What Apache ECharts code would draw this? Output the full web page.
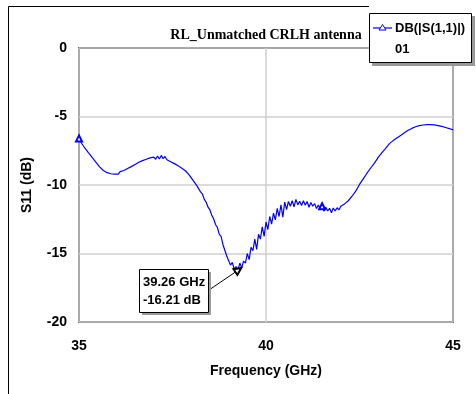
<!DOCTYPE html>
<html><head><meta charset="utf-8">
<script src="https://cdn.jsdelivr.net/npm/echarts@6/dist/echarts.min.js"></script>
<style>html,body{margin:0;padding:0;background:#fff}#c{width:476px;height:394px}</style>
</head><body><div id="c"></div>
<script>
// ---- data ----
const titleText = 'RL_Unmatched CRLH antenna';
const seriesName = 'DB(|S(1,1)|)';
const seriesSub = '01';
const xAxisName = 'Frequency (GHz)';
const yAxisName = 'S11 (dB)';
const xTicks = [35, 40, 45];
const yTicks = [-20, -15, -10, -5, 0];
const freqStart = 35, freqStep = 0.05;   // sampling grid of the sweep
const s11 = [
  -6.60,-6.88,-7.08,-7.28,-7.45,-7.64,-7.80,-7.99,-8.13,-8.33,
  -8.47,-8.68,-8.80,-8.94,-8.98,-9.10,-9.05,-9.18,-9.10,-9.20,
  -9.10,-9.20,-9.02,-9.12,-8.94,-9.02,-8.80,-8.86,-8.66,-8.70,
  -8.50,-8.58,-8.34,-8.44,-8.22,-8.34,-8.12,-8.26,-8.02,-8.16,
  -7.96,-8.12,-7.88,-8.10,-7.84,-8.08,-7.92,-8.16,-8.02,-8.30,
  -8.20,-8.44,-8.38,-8.60,-8.52,-8.78,-8.74,-8.98,-9.02,-9.28,
  -9.34,-9.66,-9.76,-10.05,-10.16,-10.50,-10.66,-11.05,-11.26,-11.62,
  -11.82,-12.22,-12.46,-12.88,-13.10,-13.58,-13.76,-14.36,-14.45,-15.18,
  -15.10,-15.85,-15.65,-16.15,-15.95,-16.21,-15.70,-16.05,-15.55,-15.70,
  -15.00,-15.45,-14.55,-14.80,-13.95,-14.70,-13.60,-13.95,-13.05,-13.75,
  -12.70,-13.25,-12.30,-12.85,-12.05,-12.55,-11.70,-12.30,-11.45,-12.35,
  -11.25,-11.80,-11.20,-11.55,-11.15,-11.60,-11.05,-11.45,-11.18,-11.50,
  -11.15,-11.48,-11.20,-11.62,-11.28,-11.55,-11.36,-11.72,-11.46,-11.78,
  -11.55,-11.92,-11.62,-11.90,-11.70,-12.02,-11.68,-11.90,-11.66,-11.82,
  -11.55,-11.62,-11.38,-11.42,-11.15,-11.08,-10.82,-10.84,-10.45,-10.48,
  -9.96,-10.02,-9.55,-9.58,-9.14,-9.18,-8.76,-8.80,-8.40,-8.42,
  -7.98,-8.04,-7.64,-7.70,-7.32,-7.30,-6.98,-6.96,-6.76,-6.72,
  -6.57,-6.52,-6.38,-6.32,-6.19,-6.12,-6.01,-5.96,-5.87,-5.83,
  -5.75,-5.73,-5.67,-5.66,-5.62,-5.62,-5.59,-5.61,-5.59,-5.62,
  -5.61,-5.65,-5.66,-5.70,-5.72,-5.77,-5.80,-5.85,-5.88,-5.94,
  -5.98
];
const symbolIndices = [0, 130];
const markerFreq = [39.26];
const markerDb = [-16.21];
const markerLabel = ['39.26 GHz', '-16.21 dB'];

// ---- chart ----
const freq = s11.map((_, i) => +(freqStart + i * freqStep).toFixed(2));
const seriesData = s11.map((v, i) => [freq[i], v]);
const BOLD13 = 'bold 13px "Liberation Sans", Arial, sans-serif';
const BLUE = '#0000ff';

const chart = echarts.init(document.getElementById('c'), null, {renderer: 'canvas'});
const option = {
  animation: false,
  backgroundColor: '#fff',
  grid: {left: 79, right: 23, top: 48, bottom: 72, show: true, borderColor: '#000', borderWidth: 1.5, backgroundColor: 'transparent'},
  xAxis: {
    type: 'value', min: xTicks[0], max: xTicks[xTicks.length - 1], interval: 5,
    name: xAxisName, nameLocation: 'middle', nameGap: 42,
    nameTextStyle: {fontFamily: 'Liberation Sans', fontWeight: 'bold', fontSize: 14, color: '#000'},
    axisLine: {show: false}, axisTick: {show: false},
    axisLabel: {fontFamily: 'Liberation Sans', fontWeight: 'bold', fontSize: 14, color: '#000', margin: 17},
    splitLine: {show: true, lineStyle: {color: '#cfcfcf', width: 1.5}}
  },
  yAxis: {
    type: 'value', min: yTicks[0], max: yTicks[yTicks.length - 1], interval: 5,
    name: yAxisName, nameLocation: 'middle', nameGap: 45, nameRotate: 90,
    nameTextStyle: {fontFamily: 'Liberation Sans', fontWeight: 'bold', fontSize: 14, color: '#000'},
    axisLine: {show: false}, axisTick: {show: false},
    axisLabel: {fontFamily: 'Liberation Sans', fontWeight: 'bold', fontSize: 14, color: '#000', margin: 12},
    splitLine: {show: true, lineStyle: {color: '#cfcfcf', width: 1.5}}
  },
  series: [{
    type: 'line', name: seriesName, data: seriesData,
    showSymbol: false, lineStyle: {color: BLUE, width: 1.2}, itemStyle: {color: BLUE},
    clip: true, z: 3,
    markPoint: {
      symbol: 'emptyTriangle', symbolSize: 6, label: {show: false}, silent: true,
      itemStyle: {color: BLUE, borderColor: BLUE, borderWidth: 1},
      data: symbolIndices.map(i => ({coord: [freq[i], s11[i]]}))
    },
    markLine: {
      silent: true, symbol: ['none', 'emptyTriangle'], symbolSize: 7,
      label: {show: false},
      lineStyle: {color: '#000', width: 1, type: 'solid'},
      data: [[{x: 209, y: 290}, {coord: [markerFreq[0], markerDb[0]]}]]
    }
  }],
  graphic: [
    // outer frame
    {type: 'polyline', z: 50, shape: {points: [[369, 6.5], [8.5, 6.5], [8.5, 394]]}, style: {stroke: '#000', lineWidth: 1, fill: null}},
    // title
    {type: 'text', z: 50, x: 266, y: 35, style: {text: titleText, font: 'bold 14px "Liberation Serif", "Times New Roman", serif', fill: '#000', textAlign: 'center', textVerticalAlign: 'middle'}},
    // legend box
    {type: 'rect', z: 100, shape: {x: 372, y: 16, width: 103, height: 50}, style: {fill: '#9a9a9a'}},
    {type: 'rect', z: 101, shape: {x: 369.5, y: 13.5, width: 102, height: 49}, style: {fill: '#fff', stroke: '#000', lineWidth: 1}},
    {type: 'line', z: 102, shape: {x1: 373, y1: 28, x2: 392, y2: 28}, style: {stroke: BLUE, lineWidth: 1.2}},
    {type: 'polygon', z: 103, shape: {points: [[382.5, 24.5], [386, 30], [379, 30]]}, style: {fill: '#fff', stroke: BLUE, lineWidth: 1}},
    {type: 'text', z: 102, x: 395, y: 28, style: {text: seriesName, font: BOLD13, fill: '#000', textAlign: 'left', textVerticalAlign: 'middle'}},
    {type: 'text', z: 102, x: 395, y: 49, style: {text: seriesSub, font: BOLD13, fill: '#000', textAlign: 'left', textVerticalAlign: 'middle'}},
    // annotation box
    {type: 'rect', z: 100, shape: {x: 142, y: 272, width: 69, height: 43}, style: {fill: '#9a9a9a'}},
    {type: 'rect', z: 101, shape: {x: 139.5, y: 269.5, width: 69, height: 43}, style: {fill: '#fff', stroke: '#000', lineWidth: 1}},
    {type: 'text', z: 102, x: 143, y: 282, style: {text: markerLabel[0], font: BOLD13, fill: '#000', textAlign: 'left', textVerticalAlign: 'middle'}},
    {type: 'text', z: 102, x: 143, y: 300, style: {text: markerLabel[1], font: BOLD13, fill: '#000', textAlign: 'left', textVerticalAlign: 'middle'}}
  ]
};
chart.setOption(option);
</script>
</body></html>
